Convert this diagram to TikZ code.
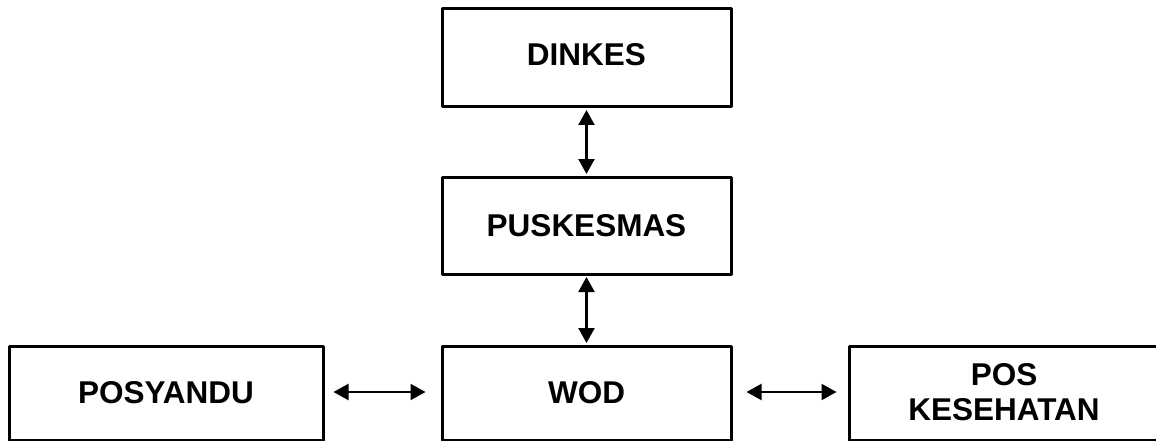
\documentclass[tikz,border=0pt]{standalone}
\usepackage{fontspec}
\setmainfont{Liberation Sans}
\usetikzlibrary{arrows.meta}
\begin{document}
\begin{tikzpicture}[x=1pt,y=-1pt,
  box/.style={draw=black,line width=3pt,line join=round,minimum width=#1,inner sep=0pt,align=center,
    font=\fontsize{31.5}{34}\selectfont\bfseries},
  link/.style={line width=2.2pt,{Triangle[length=15pt,width=16pt]}-{Triangle[length=15pt,width=16pt]}}]
\useasboundingbox (0,0) rectangle (1156,441);
\clip (0,0) rectangle (1156,441);
\node[box=289pt,minimum height=98pt] (dinkes) at (586.5,58) {};
\node[font=\fontsize{31.5}{34}\selectfont\bfseries] (dinkesT) at (dinkes.center) [yshift=3pt] {DINKES};
\node[box=289pt,minimum height=97pt] (pusk) at (586.5,225.5) {PUSKESMAS};
\node[box=289pt,minimum height=94pt] (wod) at (586.5,393) {WOD};
\node[box=314pt,minimum height=94pt] (posy) at (166,393) {POSYANDU};
\node[box=314pt,minimum height=94pt] (posk) at (1006,393) {};
\node[align=center,font=\fontsize{31.5}{35}\selectfont\bfseries] (poskT) at (1004,392) {POS\\KESEHATAN};
\draw[link] ([yshift=-1.5pt]dinkes.south) -- ([yshift=1.5pt]pusk.north);
\draw[link] ([yshift=-1.5pt]pusk.south) -- ([yshift=1.5pt]wod.north);
\draw[link] ([xshift=9pt,yshift=1pt]posy.east) -- ([xshift=-15pt,yshift=1pt]wod.west);
\draw[link] ([xshift=14pt,yshift=1pt]wod.east) -- ([xshift=-11pt,yshift=1pt]posk.west);
\end{tikzpicture}
\end{document}
